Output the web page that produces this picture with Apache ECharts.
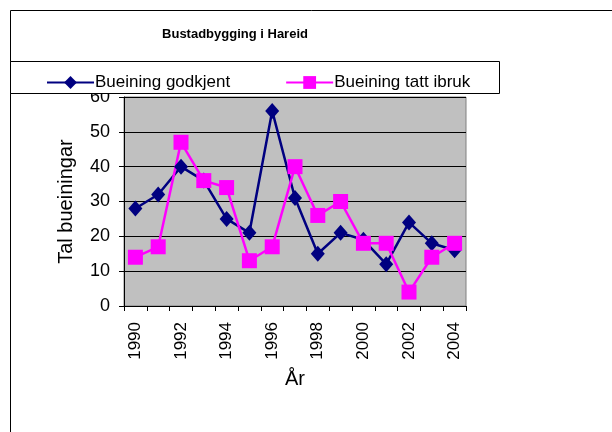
<!DOCTYPE html>
<html><head><meta charset="utf-8">
<script src="https://cdn.jsdelivr.net/npm/echarts@6/dist/echarts.min.js"></script>
<style>html,body{margin:0;padding:0;background:#fff}#c{width:612px;height:432px}</style>
</head><body><div id="c"></div>
<script>
var years = ['1990','1991','1992','1993','1994','1995','1996','1997','1998','1999','2000','2001','2002','2003','2004'];
var godkjent = [28,32,40,36,25,21,56,31,15,21,19,12,24,18,16];
var ibruk = [14,17,47,36,34,13,17,40,26,30,18,18,4,14,18];
var yTicks = [0,10,20,30,40,50,60];
var F = "'Liberation Sans Narrow','Liberation Sans',Arial,sans-serif";
var chart = echarts.init(document.getElementById('c'), null, {renderer:'canvas'});
chart.setOption({
  animation:false,
  backgroundColor:'#fff',
  title:{text:'Bustadbygging i Hareid', left:230, top:23, textAlign:'center',
    textStyle:{fontFamily:"'Liberation Sans',Arial,sans-serif", fontSize:13, fontWeight:'bold', color:'#000'}},
  graphic:[
    {type:'rect', shape:{x:10.5,y:10.5,width:700,height:600}, style:{fill:'none',stroke:'#000',lineWidth:1}, z:-10},
    {type:'rect', shape:{x:10.5,y:61.5,width:489,height:32}, style:{fill:'#fff',stroke:'#000',lineWidth:1}, z:100, zlevel:1}
  ],
  legend:{left:41, top:69, zlevel:1, z:101, itemWidth:47, itemHeight:16, itemGap:55,
    textStyle:{fontFamily:F, fontSize:17, color:'#000', padding:[0,0,0,-4]},
    data:['Bueining godkjent','Bueining tatt ibruk']},
  grid:{left:124, top:97, width:342, height:209, show:true, backgroundColor:'#C0C0C0', borderColor:'#808080', borderWidth:1},
  xAxis:{type:'category', data:years, boundaryGap:true,
    name:'År', nameLocation:'middle', nameGap:63,
    nameTextStyle:{fontFamily:F, fontSize:20, color:'#000'},
    axisLine:{lineStyle:{color:'#000',width:1}},
    axisTick:{show:true, interval:0, length:5, lineStyle:{color:'#000'}},
    axisLabel:{interval:1, rotate:90, margin:16, fontFamily:F, fontSize:17, color:'#000'},
    splitLine:{show:false}},
  yAxis:{type:'value', min:yTicks[0], max:yTicks[yTicks.length-1], interval:10,
    name:'Tal bueiningar', nameLocation:'middle', nameGap:48, nameRotate:90,
    nameTextStyle:{fontFamily:F, fontSize:20, color:'#000'},
    axisLine:{show:true, lineStyle:{color:'#000',width:1}},
    axisTick:{show:true, length:5, lineStyle:{color:'#000'}},
    axisLabel:{margin:14, fontFamily:F, fontSize:18, color:'#000'},
    splitLine:{show:true, lineStyle:{color:'#000',width:1}}},
  series:[
    {name:'Bueining godkjent', type:'line', data:godkjent, symbol:'diamond', symbolSize:[14,16], showAllSymbol:true,
      lineStyle:{color:'#000080',width:2.5}, itemStyle:{color:'#000080',borderWidth:0}, color:'#000080'},
    {name:'Bueining tatt ibruk', type:'line', data:ibruk, symbol:'rect', symbolSize:15, showAllSymbol:true,
      lineStyle:{color:'#FF00FF',width:2.5}, itemStyle:{color:'#FF00FF',borderWidth:0}, color:'#FF00FF'}
  ]
});
</script></body></html>
